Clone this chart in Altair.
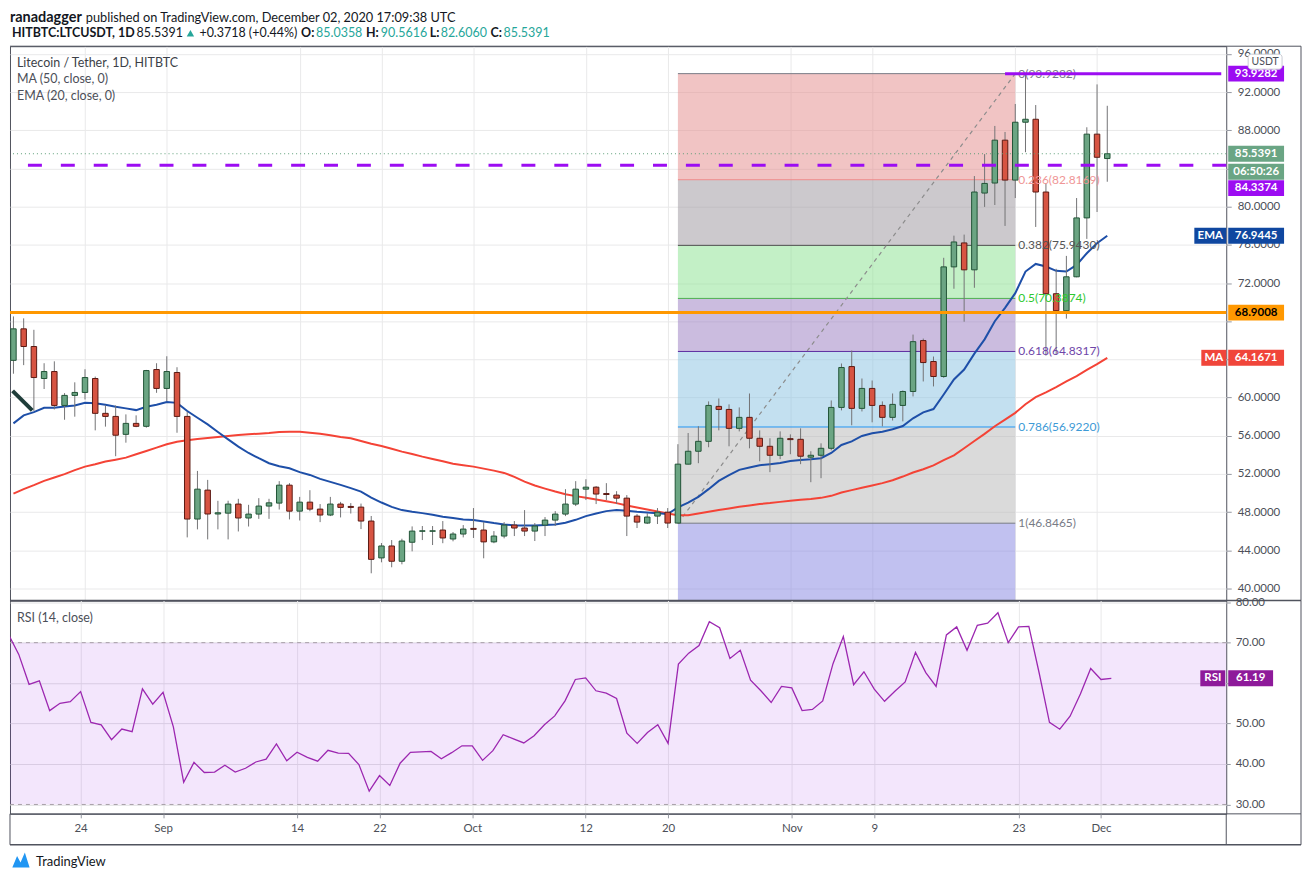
import altair as alt
import pandas as pd

# ---------------- data ----------------
DATES = pd.date_range("2020-08-17", periods=108, freq="D").strftime("%Y-%m-%d").tolist()

OPEN = [63.9, 67.2, 65.35, 62.0, 62.73, 59.18, 60.23, 60.54, 62.0, 58.35,
        58.03, 56.15, 57.3, 56.99, 62.94, 60.96, 62.63, 58.03, 47.28, 50.31,
        47.81, 47.9, 48.85, 47.39, 47.8, 48.64, 48.95, 50.83, 48.11, 49.05,
        48.32, 47.7, 48.85, 48.6, 48.53, 47.07, 43.21, 44.46, 42.86, 44.85,
        46.0, 46.0, 46.13, 45.19, 45.71, 46.3, 46.13, 44.89, 45.5, 46.65,
        46.34, 46.02, 46.65, 47.17, 47.8, 48.85, 50.41, 50.62, 49.95, 49.79,
        49.47, 47.59, 46.86, 47.59, 48.0, 46.86, 53.03, 54.38, 55.42, 59.08,
        58.76, 56.78, 57.93, 55.74, 54.9, 53.96, 55.7, 55.63, 53.76, 53.96,
        54.69, 58.97, 63.25, 58.87, 60.96, 59.18, 57.93, 59.18, 60.64, 65.97,
        63.78, 62.21, 73.69, 76.2, 73.38, 81.42, 82.47, 86.96, 82.78, 88.84,
        89.15, 81.53, 70.88, 69.1, 72.65, 78.82, 87.59, 85.0358]
HIGH = [68.5, 68.3, 67.1, 63.6, 63.8, 60.47, 61.6, 62.97, 62.2, 59.2,
        59.18, 58.24, 58.14, 62.9, 63.6, 64.33, 63.18, 58.5, 52.32, 51.38,
        49.19, 49.2, 49.4, 48.77, 49.47, 49.4, 51.25, 51.04, 49.6, 50.3,
        48.85, 49.6, 49.08, 48.95, 48.9, 47.6, 44.77, 45.08, 45.22, 46.51,
        46.55, 46.55, 47.07, 45.92, 46.65, 48.43, 46.96, 46.02, 46.96, 47.07,
        48.22, 46.86, 47.49, 48.11, 50.41, 51.25, 51.45, 50.73, 51.04, 50.2,
        49.79, 47.8, 47.9, 48.43, 48.43, 55.12, 56.29, 57.0, 59.6, 59.91,
        59.29, 58.97, 60.43, 56.57, 55.74, 56.46, 56.15, 56.78, 54.38, 55.21,
        59.7, 63.57, 64.93, 62.0, 61.79, 59.6, 60.43, 60.75, 66.6, 66.18,
        64.3, 74.64, 76.96, 77.07, 83.2, 85.5, 88.45, 87.82, 90.75, 93.93,
        90.64, 82.47, 73.49, 74.84, 80.9, 88.31, 92.8, 90.5616]
LOW = [62.5, 63.4, 58.6, 60.9, 58.76, 57.68, 58.0, 59.8, 56.57, 56.96,
       53.86, 55.28, 56.9, 56.85, 60.5, 59.63, 56.32, 45.36, 46.2, 45.15,
       46.2, 45.15, 45.98, 46.5, 47.3, 47.3, 48.28, 47.24, 47.13, 48.1,
       46.96, 47.59, 47.45, 47.86, 46.23, 41.6, 42.75, 42.23, 42.54, 43.9,
       45.08, 44.56, 44.75, 44.95, 45.36, 45.3, 43.17, 44.75, 45.26, 45.5,
       45.5, 44.98, 45.5, 46.55, 47.59, 48.64, 49.27, 48.85, 49.27, 48.85,
       45.5, 46.34, 46.76, 46.76, 46.34, 46.8, 53.0, 53.13, 54.8, 56.57,
       54.9, 56.46, 54.69, 53.33, 52.19, 53.55, 54.07, 53.03, 51.14, 51.56,
       54.48, 58.66, 57.1, 58.55, 57.41, 56.99, 57.6, 57.51, 60.12, 61.69,
       61.17, 62.07, 71.4, 67.95, 71.5, 79.97, 80.17, 77.98, 80.9, 85.7,
       77.87, 64.4, 64.5, 68.27, 72.6, 76.62, 79.44, 82.606]
CLOSE = [67.2, 65.35, 62.1, 62.73, 59.18, 60.23, 60.54, 62.1, 58.35, 58.03,
         56.06, 57.3, 56.99, 62.83, 60.96, 62.73, 58.03, 47.28, 50.41, 47.81,
         47.94, 48.85, 47.39, 47.8, 48.64, 48.98, 50.83, 48.11, 49.05, 48.32,
         47.7, 48.85, 48.5, 48.5, 47.07, 43.06, 44.46, 42.86, 44.98, 46.02,
         46.05, 46.05, 45.3, 45.71, 46.23, 46.2, 44.89, 45.5, 46.65, 46.34,
         46.02, 46.55, 47.17, 47.8, 48.85, 50.41, 50.62, 49.9, 49.85, 49.47,
         47.59, 46.96, 47.49, 48.0, 46.86, 53.03, 54.38, 55.42, 59.18, 58.76,
         56.78, 57.93, 55.74, 54.9, 53.96, 55.74, 55.6, 53.86, 53.96, 54.69,
         58.97, 63.15, 58.87, 60.96, 59.18, 57.93, 59.29, 60.64, 65.86, 63.67,
         62.21, 73.69, 76.3, 73.38, 81.53, 82.43, 86.96, 82.78, 88.84, 89.15,
         81.53, 70.88, 69.1, 72.65, 78.82, 87.59, 85.1673, 85.5391]
EMA20 = [57.3, 58.14, 58.48, 58.93, 58.93, 59.07, 59.18, 59.45, 59.4, 59.25,
         59.04, 58.87, 58.69, 59.04, 59.25, 59.53, 59.45, 58.59, 57.89, 57.2,
         56.4, 55.63, 54.86, 54.2, 53.65, 53.13, 52.81, 52.6, 52.19, 51.9,
         51.49, 51.17, 50.86, 50.52, 50.16, 49.53, 49.01, 48.56, 48.22, 48.04,
         47.9, 47.73, 47.52, 47.38, 47.24, 47.17, 47.03, 46.86, 46.72, 46.61,
         46.61, 46.61, 46.65, 46.72, 46.89, 47.2, 47.59, 47.86, 48.11, 48.22,
         48.14, 48.04, 47.97, 47.9, 47.8, 48.5, 49.01, 49.61, 50.41, 51.28,
         51.87, 52.43, 52.67, 52.92, 53.03, 53.16, 53.37, 53.47, 53.54, 53.65,
         54.2, 55.04, 55.42, 55.98, 56.26, 56.43, 56.68, 57.02, 57.83, 58.45,
         58.8, 60.33, 61.9, 62.94, 64.6, 66.1, 68.0, 69.4, 70.94, 73.2,
         74.0, 73.73, 73.28, 73.2, 73.9, 75.12, 76.16, 76.9445]
MA50 = [49.95, 50.41, 50.83, 51.28, 51.63, 51.98, 52.4, 52.77, 53.02, 53.3,
        53.5, 53.71, 54.06, 54.41, 54.76, 55.11, 55.38, 55.53, 55.66, 55.77,
        55.87, 55.98, 56.08, 56.15, 56.22, 56.29, 56.39, 56.43, 56.43, 56.32,
        56.22, 56.05, 55.87, 55.74, 55.45, 55.17, 54.93, 54.65, 54.34, 54.1,
        53.82, 53.57, 53.33, 53.08, 52.92, 52.77, 52.56, 52.35, 52.11, 51.7,
        51.2, 50.79, 50.47, 50.16, 49.88, 49.68, 49.5, 49.33, 49.15, 48.95,
        48.7, 48.5, 48.28, 48.07, 47.86, 47.69, 47.69, 47.86, 48.04, 48.22,
        48.39, 48.56, 48.7, 48.85, 48.95, 49.08, 49.19, 49.29, 49.37, 49.5,
        49.71, 50.06, 50.31, 50.55, 50.79, 51.04, 51.35, 51.73, 52.15, 52.5,
        52.9, 53.45, 53.95, 54.7, 55.45, 56.2, 57.0, 57.7, 58.4, 59.3,
        60.05, 60.55, 61.1, 61.7, 62.25, 62.9, 63.5, 64.1671]
RSI14 = [72.05, 67.1, 59.7, 60.55, 53.2, 55.0, 55.4, 57.9, 50.3, 49.7,
         46.0, 48.65, 48.0, 58.6, 54.8, 57.7, 49.2, 35.5, 40.4, 37.9,
         38.0, 39.7, 38.0, 38.95, 40.5, 41.2, 44.95, 40.8, 42.9, 41.65,
         40.7, 43.4, 42.7, 42.65, 39.85, 33.3, 37.15, 34.7, 40.2, 42.9,
         43.0, 43.1, 41.3, 42.8, 44.5, 44.5, 40.9, 43.3, 47.25, 46.2,
         45.2, 47.0, 49.7, 51.9, 55.6, 60.9, 61.3, 58.1, 57.5, 56.2,
         47.6, 45.1, 47.8, 49.7, 45.1, 64.7, 67.4, 69.3, 75.2, 73.7,
         66.1, 68.1, 60.7, 58.1, 55.2, 59.2, 58.8, 53.2, 53.5, 55.6,
         64.8, 71.5, 59.6, 62.8, 58.5, 55.5, 58.0, 60.3, 67.6, 62.6,
         59.2, 71.9, 73.9, 68.1, 74.3, 74.8, 77.4, 70.0, 73.9, 74.0,
         62.5, 50.3, 48.6, 51.8, 57.3, 63.6, 60.9, 61.19]

FIB_RATIOS = ["0", "0.236", "0.382", "0.5", "0.618", "0.786", "1"]
FIB_PRICES = [93.9282, 82.8169, 75.9430, 70.3874, 64.8317, 56.9220, 46.8465]
FIB_EXT = 17.7647            # 1.618 level, off-screen
FIB_START, FIB_END = "2020-10-21", "2020-11-23"

LEVEL_ORANGE = 68.9008
LEVEL_DASHED = 84.3374
LEVEL_TOP = 93.9282
TOP_LINE_START = "2020-11-22"
LAST_PRICE = 85.5391
COUNTDOWN = "06:50:26"
ARROW_DATES = ["2020-08-16T22:00", "2020-08-18T20:10"]
ARROW_PRICES = [60.7, 58.66]

PRICE_TICKS = list(range(40, 97, 4))
PRICE_HIDDEN = [64, 68, 84]          # labels covered by price tags in the reference
RSI_TICKS = [30, 40, 50, 60, 70, 80]
RSI_HIDDEN = [60]
TIME_TICKS = ["2020-08-24", "2020-09-01", "2020-09-14", "2020-09-22", "2020-10-01",
              "2020-10-12", "2020-10-20", "2020-11-01", "2020-11-09", "2020-11-23",
              "2020-12-01"]

# ---------------- styles ----------------
FONT = "Lato"
GRID = "#e9e9ea"
FRAME = "#50535e"
TXT = "#4c4f58"
DARK = "#131722"
TEAL = "#26a69a"
UP_FILL, UP_EDGE = "#6ba583", "#225437"
DN_FILL, DN_EDGE = "#d75442", "#5b1a13"
WICK = "#737375"
EMA_COL, EMA_TAG = "#1e4fa8", "#0f47a0"
MA_COL, MA_TAG = "#f44336", "#f0453a"
ORANGE = "#ff9800"
VIOLET = "#9c0cf2"
LAST_GREEN = "#6aa584"
RSI_COL, RSI_TAG = "#9c27b0", "#8e1a9a"
ZONE_COLORS = ["#e38989", "#99939b", "#87e18d", "#9779bf", "#87c1e1", "#b5b5b5", "#8383e1"]
LEVEL_LINE_COLORS = ["#787b86", "#f08a8a", "#4f4f4f", "#4caf50", "#5b2ca0", "#2196f3", "#787b86"]
LEVEL_TEXT_COLORS = ["#787b86", "#ef9696", "#555555", "#2ec82e", "#6e45a8", "#3d9ad6", "#787b86"]

W, H_MAIN, H_RSI, RIGHT = 1220, 556, 214, 1295
DAY = 86400000


def ms(d):
    return int(pd.Timestamp(d, tz="UTC").timestamp() * 1000)


X_START = ms(DATES[0]) + int(0.15 * DAY)
X_DOMAIN = [X_START, X_START + 118 * DAY]
TICK_MS = [ms(d) for d in TIME_TICKS]

df = pd.DataFrame({"date": DATES, "open": OPEN, "high": HIGH, "low": LOW,
                   "close": CLOSE, "ema": EMA20, "ma": MA50, "rsi": RSI14})
ONE = pd.DataFrame({"k": [0]})


def hide_expr(hidden, fmt):
    return f"indexof({hidden}, datum.value) >= 0 ? '' : format(datum.value, '{fmt}')"


xscale = alt.Scale(type="utc", domain=X_DOMAIN, nice=False)
xaxis_main = alt.Axis(values=TICK_MS, labels=False, ticks=False, domain=False, grid=True,
                      gridColor=GRID, title=None, zindex=0)
xaxis_rsi = alt.Axis(values=TICK_MS,
                     labelExpr="utcdate(datum.value) == 1 ? utcFormat(datum.value, '%b') : '' + utcdate(datum.value)",
                     grid=True, gridColor=GRID, domain=False, tickSize=4, tickColor="#9598a1",
                     labelColor=TXT, labelFont=FONT, labelFontSize=11.5, labelPadding=5,
                     labelOverlap=False, labelFlush=False, title=None, zindex=0)
yscale_main = alt.Scale(domain=[38.75, 96.8], nice=False, zero=False, clamp=True)
yaxis_main = alt.Axis(orient="right", values=PRICE_TICKS, labelExpr=hide_expr(PRICE_HIDDEN, ".4f"),
                      grid=True, gridColor=GRID, domain=False, tickSize=5, tickColor="#9598a1",
                      labelColor=TXT, labelFont=FONT, labelFontSize=11.5, labelPadding=6,
                      labelOverlap=False, title=None, zindex=0)
yscale_rsi = alt.Scale(domain=[27.68, 80.42], nice=False, zero=False)
yaxis_rsi = alt.Axis(orient="right", values=RSI_TICKS, labelExpr=hide_expr(RSI_HIDDEN, ".2f"),
                     grid=True, gridColor="#e2e2e4", domain=False, tickSize=4, tickColor="#9598a1",
                     labelColor=TXT, labelFont=FONT, labelFontSize=11.5, labelPadding=5,
                     labelOverlap=False, title=None, zindex=0)


def XM(f="date"):
    return alt.X(f"{f}:T", scale=xscale, axis=xaxis_main, title=None)


def XR(f="date"):
    return alt.X(f"{f}:T", scale=xscale, axis=xaxis_rsi, title=None)


def YM(f):
    return alt.Y(f"{f}:Q", scale=yscale_main, axis=yaxis_main, title=None)


def YR(f):
    return alt.Y(f"{f}:Q", scale=yscale_rsi, axis=yaxis_rsi, title=None)


def label(text, x, y, size=12, color=TXT, weight="normal", align="left"):
    return alt.Chart(ONE).mark_text(text=text, font=FONT, fontSize=size, fontWeight=weight,
                                    color=color, align=align, baseline="middle").encode(
        x=alt.value(x), y=alt.value(y))


def prule(x, y, x2=None, y2=None, color=FRAME, width=1):
    enc = {"x": alt.value(x), "y": alt.value(y)}
    if x2 is not None:
        enc["x2"] = alt.value(x2)
    if y2 is not None:
        enc["y2"] = alt.value(y2)
    return alt.Chart(ONE).mark_rule(color=color, strokeWidth=width).encode(**enc)


def tag(value, text, bg, fg, Yf, x0=1222, x1=1278, dy=0, size=11.5):
    d = pd.DataFrame({"v": [value], "t": [text]})
    r = alt.Chart(d).mark_rect(fill=bg, yOffset=dy - 8, y2Offset=dy + 8).encode(
        x=alt.value(x0), x2=alt.value(x1), y=Yf("v"), y2=alt.Y2("v"))
    t = alt.Chart(d).mark_text(color=fg, font=FONT, fontSize=size, fontWeight="bold", dy=dy,
                               align="center", baseline="middle").encode(
        x=alt.value((x0 + x1) / 2), y=Yf("v"), text="t:N")
    return [r, t]


# ---------------- header ----------------
HL1, HL2 = 7.5, 23
header = alt.layer(
    label("ranadagger", 0, HL1, 14.5, DARK, "bold"),
    label("published on TradingView.com, December 02, 2020 17:09:38 UTC", 76, HL1, 12.8, DARK),
    label("HITBTC:LTCUSDT, 1D", 2, HL2, 12.5, DARK, "bold"),
    label(f"{LAST_PRICE:.4f}", 127, HL2, 12.5, DARK),
    alt.Chart(ONE).mark_point(shape="triangle-up", filled=True, size=55, color=TEAL, opacity=1).encode(
        x=alt.value(181), y=alt.value(HL2)),
    label("+0.3718 (+0.44%)", 190, HL2, 12.5, DARK),
    label("O:", 292, HL2, 12.5, DARK, "bold"),
    label("85.0358", 307, HL2, 12.5, TEAL),
    label("H:", 357, HL2, 12.5, DARK, "bold"),
    label("90.5616", 372, HL2, 12.5, TEAL),
    label("L:", 421, HL2, 12.5, DARK, "bold"),
    label("82.6060", 432, HL2, 12.5, TEAL),
    label("C:", 482, HL2, 12.5, DARK, "bold"),
    label(f"{LAST_PRICE:.4f}", 495, HL2, 12.5, TEAL),
).properties(width=W, height=36)

# ---------------- main price pane ----------------
zones = pd.DataFrame({"top": FIB_PRICES, "bottom": FIB_PRICES[1:] + [FIB_EXT],
                      "start": FIB_START, "end": FIB_END, "fc": ZONE_COLORS})
levels = pd.DataFrame({"price": FIB_PRICES, "start": FIB_START, "end": FIB_END,
                       "lc": LEVEL_LINE_COLORS, "tc": LEVEL_TEXT_COLORS,
                       "label": [f"{r}({p:.4f})" for r, p in zip(FIB_RATIOS, FIB_PRICES)]})
trend = pd.DataFrame({"date": [FIB_START, FIB_END], "price": [FIB_PRICES[-1], FIB_PRICES[0]]})
arrow = pd.DataFrame({"date": ARROW_DATES, "price": ARROW_PRICES})
top_line = pd.DataFrame({"start": [ms(TOP_LINE_START)], "end": [X_DOMAIN[1]], "price": [LEVEL_TOP]})

up = "datum.close >= datum.open"

main_layers = [
    alt.Chart(zones).mark_rect(opacity=0.5).encode(
        x=XM("start"), x2=alt.X2("end"), y=YM("top"), y2=alt.Y2("bottom"),
        fill=alt.Fill("fc:N", scale=None)),
    alt.Chart(levels).mark_rule(strokeWidth=1).encode(
        x=XM("start"), x2=alt.X2("end"), y=YM("price"), stroke=alt.Stroke("lc:N", scale=None)),
    alt.Chart(trend).mark_line(color="#8c8c8c", strokeWidth=1.2, strokeDash=[4, 4]).encode(
        x=XM("date"), y=YM("price")),
    alt.Chart(df).mark_line(color=MA_COL, strokeWidth=2, clip=True).encode(x=XM(), y=YM("ma")),
    alt.Chart(df).mark_line(color=EMA_COL, strokeWidth=2, clip=True).encode(x=XM(), y=YM("ema")),
    alt.Chart(df).mark_rule(color=WICK, strokeWidth=1, clip=True).encode(
        x=XM(), y=YM("low"), y2=alt.Y2("high")),
    alt.Chart(df).mark_bar(size=5.5, strokeWidth=1, clip=True).encode(
        x=XM(), y=YM("open"), y2=alt.Y2("close"),
        fill=alt.condition(up, alt.value(UP_FILL), alt.value(DN_FILL)),
        stroke=alt.condition(up, alt.value(UP_EDGE), alt.value(DN_EDGE))),
    alt.Chart(levels).mark_text(align="left", baseline="middle", dx=3, font=FONT, fontSize=12).encode(
        x=XM("end"), y=YM("price"), text="label:N", color=alt.Color("tc:N", scale=None)),
    alt.Chart(pd.DataFrame({"price": [LAST_PRICE]})).mark_rule(
        color="#5b9e76", strokeWidth=1, strokeDash=[1, 3]).encode(y=YM("price")),
    alt.Chart(pd.DataFrame({"price": [LEVEL_ORANGE]})).mark_rule(
        color=ORANGE, strokeWidth=3).encode(y=YM("price")),
    alt.Chart(pd.DataFrame({"price": [LEVEL_DASHED]})).mark_rule(
        color=VIOLET, strokeWidth=3, strokeDash=[14, 19]).encode(y=YM("price")),
    alt.Chart(top_line).mark_rule(color=VIOLET, strokeWidth=3).encode(
        x=XM("start"), x2=alt.X2("end"), y=YM("price")),
    alt.Chart(arrow).mark_line(color="#1f3d3a", strokeWidth=4, clip=True).encode(
        x=XM("date"), y=YM("price")),
    label("Litecoin / Tether, 1D, HITBTC", 7, 17, 12.5, "#3c3f48"),
    label("MA (50, close, 0)", 7, 33, 12.5, TXT),
    label("EMA (20, close, 0)", 7, 50, 12.5, TXT),
]
main_layers += tag(LEVEL_TOP, f"{LEVEL_TOP:.4f}", VIOLET, "white", YM)
main_layers += tag(LAST_PRICE, f"{LAST_PRICE:.4f}", LAST_GREEN, "white", YM)
main_layers += tag(LAST_PRICE, COUNTDOWN, LAST_GREEN, "white", YM, dy=18)
main_layers += tag(LEVEL_DASHED, f"{LEVEL_DASHED:.4f}", VIOLET, "white", YM, dy=23)
main_layers += tag(EMA20[-1], f"{EMA20[-1]:.4f}", EMA_TAG, "white", YM)
main_layers += tag(EMA20[-1], "EMA", EMA_TAG, "white", YM, x0=1188, x1=1220)
main_layers += tag(LEVEL_ORANGE, f"{LEVEL_ORANGE:.4f}", ORANGE, "black", YM)
main_layers += tag(MA50[-1], f"{MA50[-1]:.4f}", MA_TAG, "white", YM)
main_layers += tag(MA50[-1], "MA", MA_TAG, "white", YM, x0=1195, x1=1220)
main_layers += [
    alt.Chart(ONE).mark_rect(fill="white", stroke="#c9ccd4", strokeWidth=1, cornerRadius=3).encode(
        x=alt.value(1242), x2=alt.value(1276), y=alt.value(8), y2=alt.value(23)),
    label("USDT", 1259, 15.5, 10.5, TXT, align="center"),
    prule(0, 0, x2=RIGHT),
    prule(0, H_MAIN, x2=RIGHT, width=1.5),
    prule(RIGHT, 0, y2=H_MAIN),
]
main = alt.layer(*main_layers).properties(
    width=W, height=H_MAIN, view=alt.ViewBackground(stroke=FRAME, strokeWidth=1))

# ---------------- RSI pane ----------------
band = pd.DataFrame({"hi": [70], "lo": [30]})
rsi_layers = [
    alt.Chart(band).mark_rect(fill="#8705e1", opacity=0.1).encode(
        x=alt.value(0), x2=alt.value(W), y=YR("hi"), y2=alt.Y2("lo")),
    alt.Chart(pd.DataFrame({"v": [70, 30]})).mark_rule(
        color="#a89fa8", strokeWidth=1, strokeDash=[4, 4]).encode(y=YR("v")),
    alt.Chart(df).mark_line(color=RSI_COL, strokeWidth=1.3, clip=True).encode(x=XR(), y=YR("rsi")),
    label("RSI (14, close)", 7, 18, 12.5, TXT),
]
rsi_layers += tag(RSI14[-1], f"{RSI14[-1]:.2f}", RSI_TAG, "white", YR, x0=1222, x1=1267)
rsi_layers += tag(RSI14[-1], "RSI", RSI_TAG, "white", YR, x0=1194, x1=1219)
rsi_layers += [
    prule(0, H_RSI, x2=RIGHT),
    prule(0, 245, x2=RIGHT, width=1.5),
    prule(W, H_RSI, y2=245),
    prule(0, H_RSI, y2=245),
    prule(RIGHT, 0, y2=245),
    alt.Chart(ONE).mark_point(shape="M-1,0.8 L-0.45,-0.55 L-0.05,0.2 L0.45,-0.95 L1,0.8 Z",
                              filled=True, size=300, color="#2196f3", opacity=1).encode(
        x=alt.value(11), y=alt.value(261)),
    label("TradingView", 26, 262, 13, DARK),
]
rsi = alt.layer(*rsi_layers).properties(
    width=W, height=H_RSI, view=alt.ViewBackground(stroke=FRAME, strokeWidth=1))

chart = alt.vconcat(header, main, rsi, spacing=0, bounds="flush", padding=0,
                    background="white").configure_view(stroke="transparent")

chart.save("out.html", embed_options={"renderer": "svg", "actions": False})
